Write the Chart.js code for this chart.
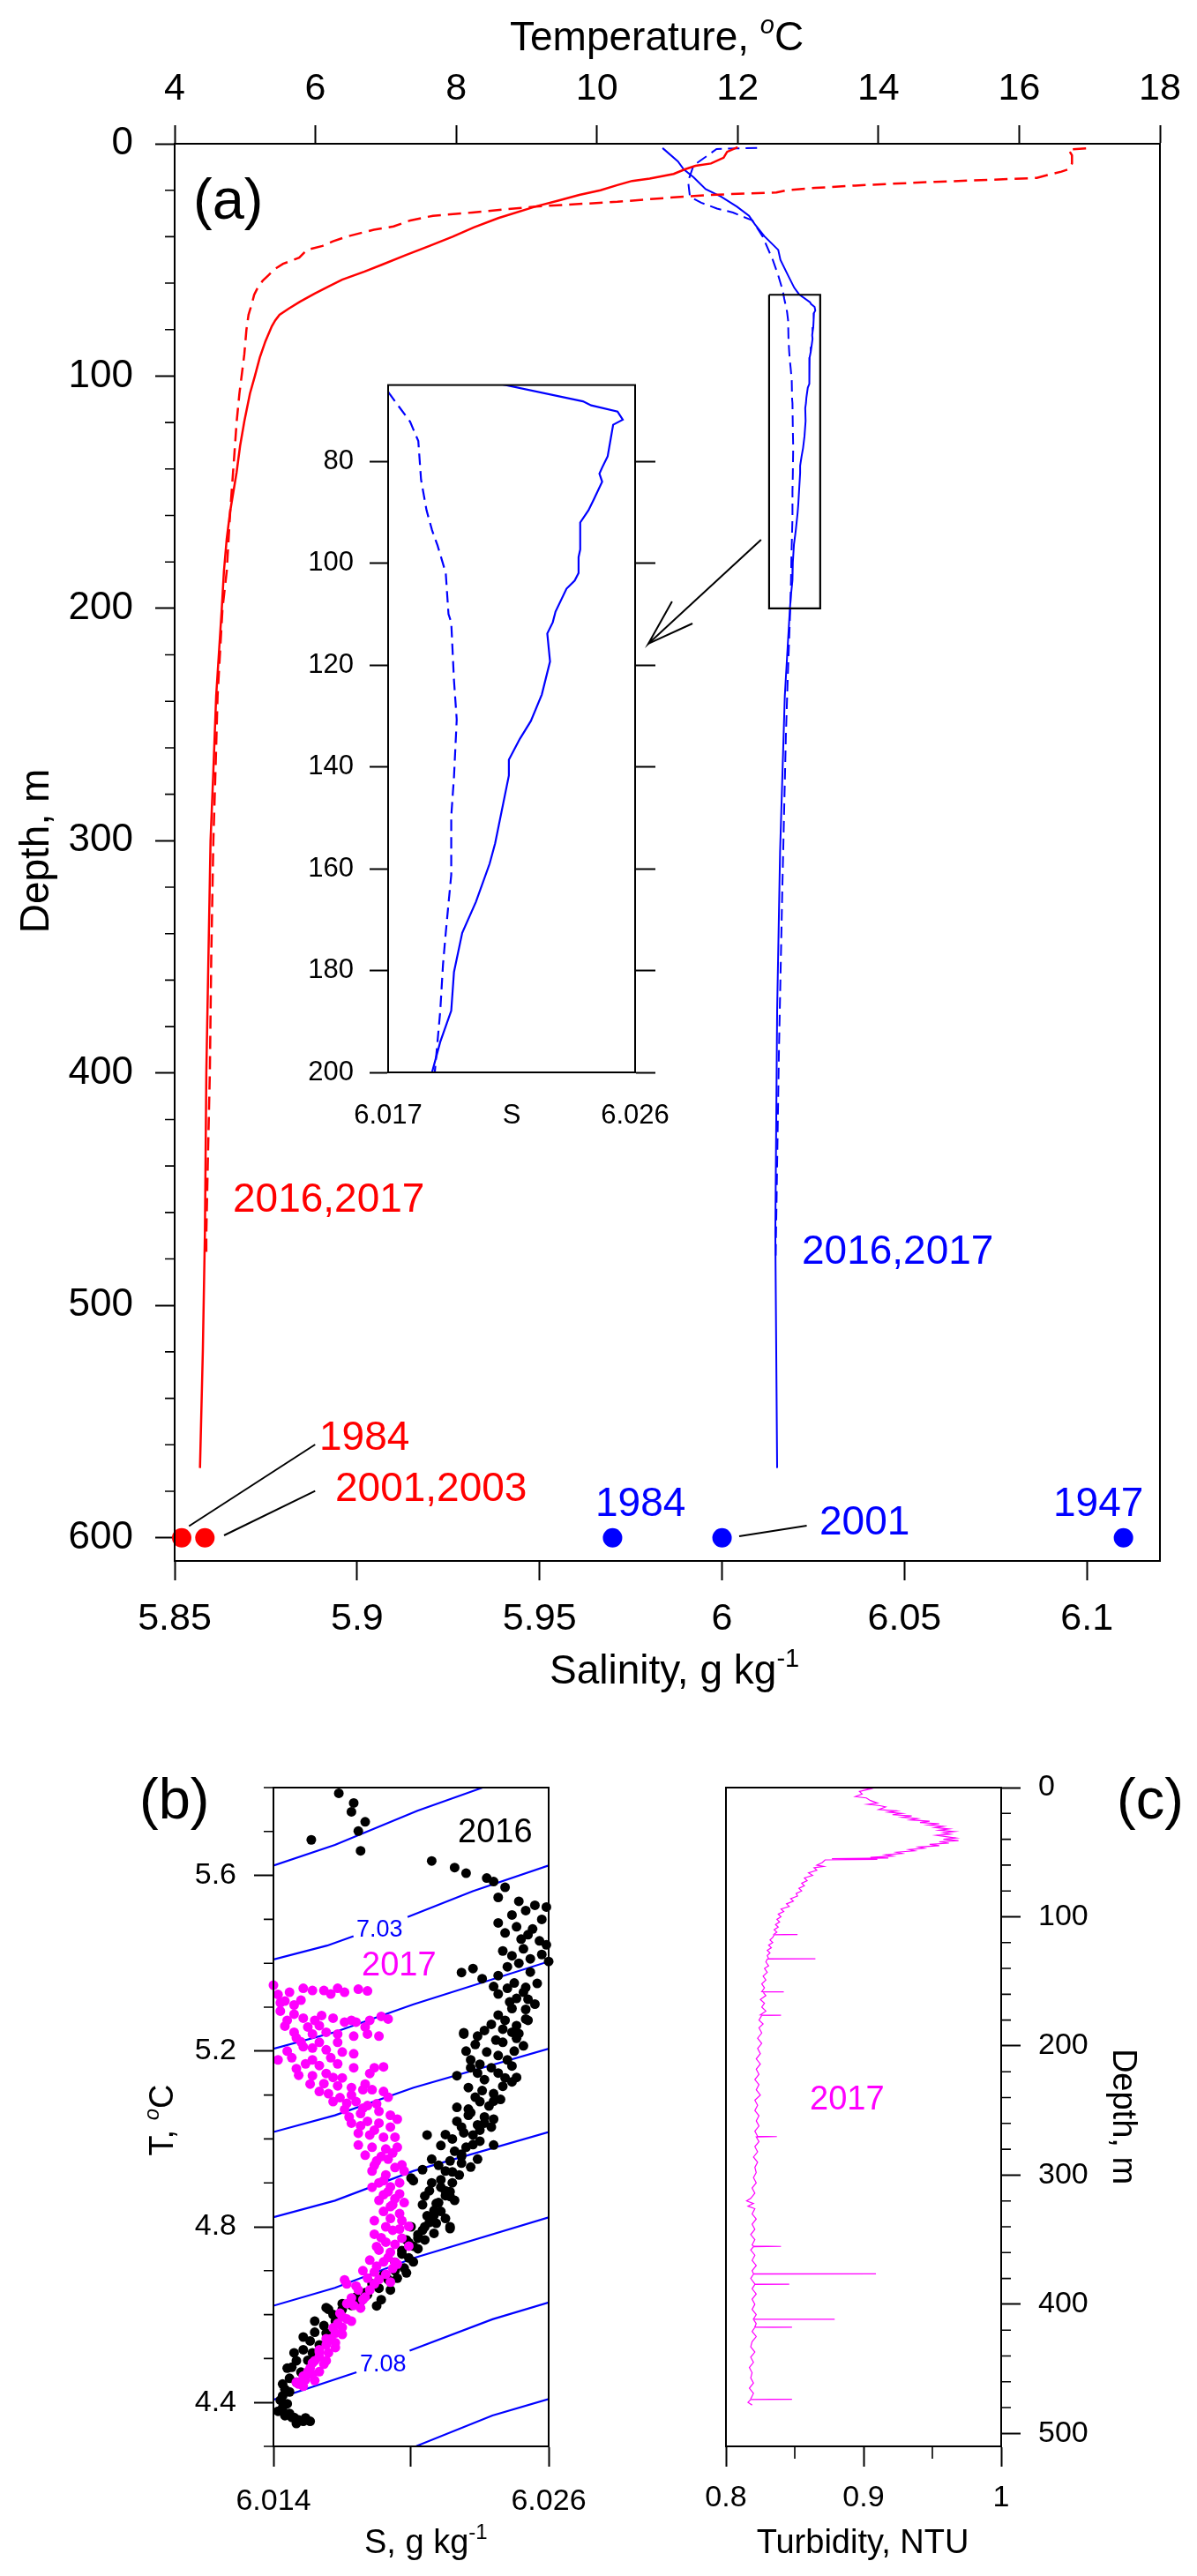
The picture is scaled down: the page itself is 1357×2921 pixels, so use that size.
<!DOCTYPE html>
<html>
<head>
<meta charset="utf-8">
<script src="https://cdn.jsdelivr.net/npm/chart.js@4.4.1/dist/chart.umd.min.js"></script>
<style>
html, body { margin: 0; padding: 0; background: #fff; }
#page { position: relative; width: 1357px; height: 2921px; background: #fff; overflow: hidden; }
canvas { position: absolute; }
</style>
</head>
<body>
<div id="page">
  <canvas id="cA" width="1357" height="1950" style="left:0px;top:0px"></canvas>
  <canvas id="cIn" width="470" height="900" style="left:330px;top:400px"></canvas>
  <canvas id="cB" width="700" height="971" style="left:0px;top:1950px"></canvas>
  <canvas id="cC" width="657" height="971" style="left:700px;top:1950px"></canvas>
</div>
<script>
const FONT = "'Liberation Sans', Arial, Helvetica, sans-serif";
const RED = '#ff0000', BLUE = '#0000ff', MAG = '#ff00ff';

// ---- (a) temperature profiles (top axis), depth in m
const depthT2016 = [1.5,3.5,6,8.5,9.5,11,13,15,16,17.8,20,22,24.5,27,32,36,40,44,48,52,55,58.5,61.5,64.5,68,71,73.6,76,78.6,85,92,100,107.5,119.5,130,141.5,158,170,184,200,237.6,270,300,350,400,469,520,570];
const temp2016 = [12.0,11.85,11.8,11.62,11.4,11.25,11.09,10.75,10.5,10.29,10.05,9.75,9.45,9.13,8.6,8.25,7.95,7.62,7.28,6.95,6.7,6.38,6.18,5.99,5.78,5.62,5.49,5.43,5.38,5.29,5.21,5.14,5.07,4.99,4.93,4.88,4.79,4.74,4.70,4.67,4.59,4.55,4.51,4.48,4.45,4.43,4.40,4.36];
const depthT2017 = [2,2.5,5,8.5,11,12,13.5,14.7,15.5,16.4,17.2,18,19,20,21,22,23.5,25,27,29.6,31,33,35.6,37,40,42,44,45.7,49,51.7,54,56.7,59,62,65,68.6,73.6,80,90.6,107.6,120,133,158,184,200,237.6,270,300,350,400,440,469,480];
const temp2017 = [16.95,16.7,16.75,16.75,16.7,16.6,16.4,16.25,15.6,14.8,14.2,13.67,13.1,12.7,12.55,11.6,10.9,10.29,9.13,8.23,7.67,7.35,7.11,6.83,6.44,6.25,6.1,5.88,5.77,5.54,5.42,5.33,5.25,5.18,5.13,5.10,5.05,5.02,4.99,4.92,4.88,4.85,4.79,4.74,4.68,4.61,4.58,4.55,4.52,4.50,4.47,4.45,4.45];

// ---- (a) salinity profiles (bottom axis), g/kg
const depthS2016 = [1.85,7.6,11,14.4,19.5,22.8,27.1,31,34.7,39.8,45.7,50,56.7,62,64.8,68.2,69,70.2,71.8,72.8,75.9,79,81.2,82.4,84,87.4,89.6,92,97.3,98.8,101.9,103.4,105,109.5,111.6,113.8,119.3,125.8,131,134.5,138.6,141.7,155,159,166.5,172.6,180.3,187.9,194,200,237.6,305,373,469,570];
const sal2016 = [5.9837,5.9879,5.9895,5.9922,5.9955,5.9998,6.0041,6.0074,6.0090,6.0116,6.0154,6.0160,6.0181,6.0198,6.0211,6.0241,6.0244,6.02536,6.02555,6.0252,6.0251,6.0250,6.0248,6.0247,6.0248,6.0245,6.0243,6.0240,6.0240,6.02394,6.02394,6.0238,6.0235,6.0231,6.0230,6.0228,6.0229,6.0226,6.0222,6.0218,6.0214,6.0214,6.0209,6.0207,6.0202,6.0197,6.0194,6.0193,6.0189,6.0186,6.0172,6.0159,6.0151,6.0146,6.0151];
const depthS2017 = [1.8,2.0,2.3,5.1,9.3,16.1,22.8,25.4,27.9,29.6,33,39.8,50,56.7,63,66.8,72.2,76,83.6,89.6,93.5,96.5,101.9,110,111.6,123,130.7,142,149.7,161.2,172.6,178.8,187.9,200,230,254.6,322,390,469,480];
const sal2017 = [6.0096,6.0040,5.9985,5.9960,5.9922,5.9907,5.9912,5.9943,5.9986,6.0030,6.0083,6.0111,6.0139,6.0154,6.0166,6.01706,6.0178,6.0181,6.0182,6.0184,6.0186,6.0188,6.0191,6.0192,6.0193,6.0194,6.0195,6.0194,6.0193,6.0193,6.0191,6.0190,6.0189,6.0187,6.0180,6.0175,6.0165,6.0156,6.0148,6.0147];

// ---- (a) historical values at the 600 m marker
const histDepth = 600;
const histTempYears = ['1984', '2001,2003'];
const histTemp = [4.10, 4.43];
const histSalYears = ['1984', '2001', '1947'];
const histSal = [5.97, 6.00, 6.11];

// ---- (a) ticks
const tempTicks = [4, 6, 8, 10, 12, 14, 16, 18];
const salTicks = [5.85, 5.9, 5.95, 6, 6.05, 6.1];
const salTickLabels = ['5.85', '5.9', '5.95', '6', '6.05', '6.1'];
const depthTicks = [0, 100, 200, 300, 400, 500, 600];
const depthMinor = [20,40,60,80,120,140,160,180,220,240,260,280,320,340,360,380,420,440,460,480,520,540,560,580];
const insetDepthTicks = [80, 100, 120, 140, 160, 180, 200];
const insetSalTicks = [6.017, 6.0215, 6.026];
const insetSalLabels = ['6.017', 'S', '6.026'];

// zoom box, arrow and leader lines (data units)
const boxSal = [6.0129, 6.0269, 6.0269, 6.0129, 6.0129];
const boxDepth = [65, 65, 200, 200, 65];
const arrowSal = [6.0107, 5.9798, 5.9863];
const arrowDepth = [170.4, 215.2, 197.0];
const arrowWingSal = [5.9798, 5.9919];
const arrowWingDepth = [215.2, 206.5];

// ---- (b) T-S diagram
const tsTicksT = [4.4, 4.8, 5.2, 5.6];
const tsTicksTLabels = ['4.4', '4.8', '5.2', '5.6'];
const tsMinorT = [4.3, 4.5, 4.6, 4.7, 4.9, 5.0, 5.1, 5.3, 5.4, 5.5, 5.7, 5.8];
const tsTicksS = [6.014, 6.020, 6.026];
const tsTicksSLabels = ['6.014', '', '6.026'];
// isopycnals 7.02 ... 7.09 (S, T); null = gap for the contour label
const iso702S = [6.0140, 6.01668, 6.02028, 6.0232];
const iso702T = [5.6226, 5.6695, 5.7472, 5.8014];
const iso703S = [6.0140, 6.01634, 6.01749, null, 6.01985, 6.02269, 6.0260];
const iso703T = [5.4086, 5.4402, 5.4618, null, 5.5052, 5.5639, 5.6226];
const iso704S = [6.0140, 6.01668, 6.02011, 6.0260];
const iso704T = [5.2054, 5.2433, 5.3065, 5.4040];
const iso705S = [6.0140, 6.01668, 6.02011, 6.0260];
const iso705T = [5.0158, 5.0537, 5.1169, 5.2054];
const iso706S = [6.0140, 6.01668, 6.02011, 6.0260];
const iso706T = [4.8216, 4.8595, 4.9273, 5.0158];
const iso707S = [6.0140, 6.01668, 6.02011, 6.0260];
const iso707T = [4.6202, 4.6609, 4.7286, 4.8216];
const iso708S = [6.0140, 6.01762, null, 6.01994, 6.02355, 6.0260];
const iso708T = [4.4061, 4.4687, null, 4.5179, 4.5894, 4.6278];
const iso709S = [6.02023, 6.02355, 6.0260];
const iso709T = [4.3007, 4.3704, 4.4079];

// T-S points [S, T]
const ts2016 = [[6.01565,5.681],[6.01685,5.787],[6.0175,5.765],[6.0174,5.745],[6.0180,5.722],[6.0177,5.701],[6.0178,5.656],[6.0209,5.633],[6.0219,5.618],[6.0224,5.605],[6.0233,5.594],[6.0236,5.586],[6.0241,5.573],[6.0238,5.550],[6.0247,5.541],[6.0244,5.510],[6.0254,5.532],[6.0259,5.528],[6.0238,5.492],[6.0246,5.483],[6.0241,5.469],[6.0251,5.465],[6.0256,5.451],[6.0259,5.442],[6.0240,5.428],[6.0249,5.433],[6.0244,5.417],[6.0252,5.410],[6.0260,5.404],[6.0242,5.392],[6.0222,5.379],[6.0227,5.388],[6.0231,5.365],[6.0236,5.347],[6.0242,5.343],[6.0249,5.334],[6.0246,5.320],[6.0254,5.307],[6.0244,5.297],[6.0241,5.270],[6.0251,5.270],[6.0235,5.261],[6.0244,5.243],[6.0223,5.239],[6.0229,5.234],[6.0237,5.225],[6.0249,5.212],[6.0233,5.198],[6.0224,5.200],[6.0226,5.180],[6.0242,5.180],[6.0235,5.162],[6.0220,5.144],[6.0226,5.162],[6.0232,5.135],[6.0244,5.130],[6.0225,5.117],[6.0236,5.103],[6.0230,5.085],[6.0239,5.090],[6.0220,5.072],[6.0225,5.054],[6.0232,5.036],[6.0222,5.027],[6.0227,5.009],[6.0235,5.027],[6.0207,5.009],[6.0236,4.986],[6.0224,4.981],[6.0219,4.972],[6.0229,4.954],[6.0209,4.954],[6.0217,4.950],[6.0226,4.936],[6.0215,4.927],[6.0221,4.918],[6.0201,4.905],[6.0209,4.900],[6.0215,4.882],[6.0208,4.882],[6.0217,4.869],[6.0212,4.855],[6.0210,4.837],[6.0215,4.819],[6.0208,4.810],[6.0217,4.796],[6.0205,4.792],[6.0203,4.774],[6.0201,4.756],[6.0199,4.729],[6.0197,4.706],[6.0194,4.683],[6.0191,4.656],[6.0187,4.634],[6.0185,4.620],[6.0174,4.621],[6.0170,4.612],[6.0164,4.612],[6.0167,4.585],[6.0163,4.558],[6.0160,4.531],[6.0157,4.513],[6.0155,4.496],[6.0152,4.469],[6.0150,4.446],[6.0147,4.424],[6.0146,4.397],[6.0147,4.375],[6.0149,4.366],[6.0153,4.357],[6.0156,4.357],[6.0163,4.616],[6.0158,4.585],[6.0153,4.549],[6.0149,4.513],[6.0146,4.478],[6.0144,4.442],[6.0144,4.415],[6.0144,4.388],[6.0148,4.366],[6.0151,4.360],[6.0193,4.719],[6.0196,4.746],[6.0199,4.764],[6.0203,4.782],[6.0206,4.800],[6.0210,4.826],[6.0211,4.853],[6.0215,4.871],[6.0217,4.880],[6.0213,4.907],[6.0218,4.925],[6.0222,4.960],[6.0227,4.987],[6.0223,5.014],[6.0229,5.032],[6.0232,5.050],[6.0225,5.068],[6.0236,5.086],[6.0241,5.139],[6.0244,5.166],[6.0246,5.229],[6.0250,5.273],[6.0251,5.318],[6.0255,5.354],[6.0223,5.242],[6.0200,4.911],[6.0215,5.010],[6.0217,4.800],[6.0180,4.650],[6.0176,4.640],[6.0188,4.690],[6.0183,4.670],
  [6.0250,5.520],[6.0257,5.500],[6.0253,5.478],[6.0248,5.455],[6.0257,5.420],[6.0247,5.400],[6.0252,5.380],[6.0238,5.372],[6.0245,5.355],[6.0250,5.345],[6.0238,5.330],[6.0243,5.312],[6.0250,5.295],[6.0238,5.282],[6.0246,5.258],[6.0240,5.250],[6.0232,5.247],[6.0247,5.240],[6.0240,5.220],[6.0228,5.215],[6.0245,5.200],[6.0238,5.190],[6.0230,5.170],[6.0238,5.150],[6.0229,5.150],[6.0246,5.140],[6.0240,5.120],[6.0231,5.110],[6.0228,5.095],[6.0234,5.075],[6.0226,5.060],[6.0236,5.045],[6.0230,5.020],[6.0220,5.040],[6.0218,5.000],[6.0230,4.995],[6.0213,4.985],[6.0222,4.965],[6.0212,4.940],[6.0205,4.930],[6.0222,4.945],[6.0218,4.900],[6.0213,4.890],[6.0206,4.870],[6.0219,4.860],[6.0205,4.850],[6.0213,4.835],[6.0207,4.825],[6.0211,4.808],[6.0200,4.800],[6.0210,4.785],[6.0206,4.770],[6.0198,4.770],[6.0203,4.750],[6.0196,4.738],[6.0201,4.720],[6.0193,4.700],[6.0198,4.695],[6.0190,4.680],[6.0186,4.660],[6.0181,4.645],[6.0178,4.630],[6.0170,4.625],[6.0166,4.600],[6.0162,4.575],[6.0158,4.560],[6.0156,4.540],[6.0153,4.520],[6.0150,4.495],[6.0148,4.480],[6.0147,4.455],[6.0145,4.430],[6.0143,4.405],[6.0142,4.380],[6.0145,4.370],[6.0150,4.352],[6.0154,4.365]];
const ts2017 = [[6.0140,5.350],[6.0142,5.329],[6.0147,5.334],[6.0153,5.343],[6.0157,5.338],[6.0162,5.338],[6.0168,5.343],[6.0171,5.334],[6.0177,5.341],[6.0181,5.337],[6.0145,5.314],[6.0152,5.316],[6.0143,5.291],[6.0149,5.284],[6.0153,5.275],[6.0158,5.270],[6.0161,5.281],[6.0166,5.275],[6.0171,5.266],[6.0176,5.266],[6.0182,5.270],[6.0187,5.279],[6.0190,5.273],[6.0145,5.257],[6.0149,5.243],[6.0157,5.239],[6.0163,5.243],[6.0168,5.239],[6.0175,5.234],[6.0181,5.239],[6.0186,5.234],[6.0152,5.221],[6.0157,5.207],[6.0163,5.203],[6.0170,5.198],[6.0175,5.194],[6.0142,5.180],[6.0148,5.185],[6.0154,5.171],[6.0160,5.167],[6.0168,5.171],[6.0175,5.162],[6.0184,5.162],[6.0188,5.164],[6.0151,5.145],[6.0157,5.144],[6.0163,5.149],[6.0170,5.139],[6.0182,5.149],[6.0162,5.126],[6.0168,5.121],[6.0174,5.117],[6.0179,5.112],[6.0183,5.112],[6.0188,5.108],[6.0160,5.108],[6.0164,5.103],[6.0169,5.094],[6.0172,5.081],[6.0176,5.085],[6.0181,5.076],[6.0171,5.067],[6.0178,5.058],[6.0186,5.063],[6.0191,5.054],[6.0174,5.036],[6.0181,5.040],[6.0186,5.036],[6.0191,5.027],[6.0194,5.045],[6.0177,5.013],[6.0182,5.009],[6.0188,5.004],[6.0193,5.004],[6.0177,4.986],[6.0183,4.981],[6.0189,4.977],[6.0194,4.981],[6.0180,4.963],[6.0185,4.950],[6.0190,4.954],[6.0196,4.941],[6.0183,4.927],[6.0189,4.918],[6.0197,4.927],[6.0186,4.900],[6.0191,4.891],[6.0188,4.873],[6.0193,4.864],[6.0197,4.855],[6.0191,4.846],[6.0184,4.814],[6.0191,4.819],[6.0196,4.814],[6.0199,4.801],[6.0192,4.792],[6.0184,4.783],[6.0189,4.765],[6.0196,4.774],[6.0199,4.756],[6.0186,4.747],[6.0191,4.742],[6.0182,4.724],[6.0188,4.720],[6.0194,4.715],[6.0184,4.697],[6.0189,4.692],[6.0181,4.683],[6.0184,4.670],[6.0172,4.670],[6.0177,4.656],[6.0182,4.656],[6.0174,4.638],[6.0179,4.634],[6.0169,4.603],[6.0175,4.621],[6.0167,4.558],[6.0170,4.571],[6.0163,4.531],[6.0167,4.536],[6.0160,4.504],[6.0164,4.513],[6.0156,4.478],[6.0162,4.487],[6.0153,4.460],[6.0157,4.464],[6.0151,4.442],[6.0150,4.446],[6.0153,4.437],[6.0191,4.674],[6.0193,4.719],[6.0171,4.679],[6.0172,4.590],[6.0168,4.580],[6.0165,4.545],[6.0160,4.520],[6.0158,4.495],[6.0155,4.470],
  [6.0187,4.960],[6.0192,4.968],[6.0184,4.940],[6.0193,4.935],[6.0188,4.905],[6.0195,4.900],[6.0183,4.890],[6.0190,4.880],[6.0195,4.875],[6.0186,4.860],[6.0192,4.850],[6.0188,4.835],[6.0195,4.830],[6.0189,4.800],[6.0195,4.795],[6.0187,4.775],[6.0193,4.760],[6.0185,4.755],[6.0190,4.730],[6.0185,4.710],[6.0192,4.705],[6.0179,4.700],[6.0186,4.680],[6.0176,4.665],[6.0180,4.640],[6.0172,4.625],[6.0178,4.615],[6.0170,4.595],[6.0174,4.585],[6.0166,4.570],[6.0170,4.555],[6.0163,4.545],[6.0167,4.525],[6.0160,4.515],[6.0163,4.495],[6.0157,4.490],[6.0160,4.470],[6.0154,4.452],[6.0158,4.450],[6.0178,5.030],[6.0184,5.020],[6.0173,5.050],[6.0179,5.070],[6.0185,5.080],[6.0166,5.085],[6.0174,5.100],[6.0190,5.095],[6.0180,5.125],[6.0156,5.125],[6.0166,5.140],[6.0150,5.160],[6.0157,5.180],[6.0165,5.185],[6.0146,5.200],[6.0153,5.210],[6.0160,5.220],[6.0168,5.220],[6.0150,5.230],[6.0155,5.255],[6.0146,5.270],[6.0160,5.258],[6.0143,5.310],[6.0149,5.305],[6.0165,5.330],[6.0174,5.270],[6.0180,5.255]];

// ---- (c) turbidity profile [depth m, NTU]
const turbTicks = [0.8, 0.9, 1];
const turbTickLabels = ['0.8', '0.9', '1'];
const turbMinor = [0.85, 0.95];
const turbDepthTicks = [0, 100, 200, 300, 400, 500];
const turbDepthMinor = [20,40,60,80,120,140,160,180,220,240,260,280,320,340,360,380,420,440,460,480];
const turb2017 = [[0,0.893],[1,0.905],[3,0.897],[5,0.899],[7,0.894],[8,0.902],[10,0.905],[12,0.910],[13,0.903],[14,0.912],[15,0.916],[17,0.911],[18,0.924],[19,0.918],[20,0.928],[21,0.921],[22,0.935],[23,0.928],[24,0.939],[25,0.934],[26,0.948],[27,0.941],[28,0.955],[29,0.947],[30,0.958],[31,0.952],[32,0.962],[33,0.955],[34,0.966],[35,0.958],[36,0.963],[37,0.953],[38,0.960],[39,0.967],[40,0.958],[41,0.969],[42,0.955],[43,0.962],[44,0.948],[45,0.955],[46,0.940],[47,0.944],[48,0.933],[49,0.937],[50,0.924],[51,0.928],[52,0.916],[53,0.921],[54,0.905],[54.5,0.918],[55,0.877],[55.5,0.910],[56,0.872],[58,0.870],[60,0.866],[61,0.871],[62,0.864],[64,0.866],[66,0.860],[68,0.863],[70,0.857],[72,0.859],[74,0.855],[76,0.857],[78,0.853],[80,0.855],[82,0.851],[84,0.852],[86,0.847],[88,0.849],[90,0.844],[92,0.846],[94,0.840],[96,0.842],[98,0.838],[100,0.840],[102,0.837],[104,0.839],[106,0.836],[108,0.838],[110,0.835],[112,0.837],[113.5,0.835],[113.7,0.852],[114,0.835],[116,0.834],[118,0.832],[120,0.834],[122,0.831],[124,0.833],[126,0.830],[128,0.832],[130,0.830],[132.5,0.831],[132.6,0.865],[132.8,0.830],[135,0.829],[138,0.831],[140,0.828],[143,0.830],[146,0.827],[149,0.829],[152,0.826],[155,0.828],[158,0.826],[158.2,0.842],[158.4,0.827],[161,0.829],[164,0.825],[167,0.828],[170,0.826],[173,0.829],[176,0.825],[176.2,0.840],[176.4,0.826],[180,0.824],[183,0.827],[186,0.824],[190,0.826],[194,0.823],[198,0.826],[202,0.823],[206,0.825],[210,0.822],[214,0.825],[218,0.822],[222,0.824],[226,0.821],[230,0.824],[234,0.822],[238,0.825],[242,0.821],[246,0.823],[250,0.821],[254,0.824],[258,0.822],[262,0.824],[266,0.821],[270,0.823],[270.2,0.837],[270.4,0.822],[274,0.824],[278,0.821],[282,0.823],[286,0.820],[290,0.823],[294,0.821],[298,0.822],[302,0.820],[306,0.822],[310,0.819],[314,0.821],[318,0.818],[320,0.815],[322,0.820],[324,0.816],[326,0.821],[330,0.819],[334,0.822],[338,0.819],[342,0.821],[346,0.818],[350,0.821],[354,0.819],[355,0.820],[355.2,0.840],[355.4,0.820],[358,0.818],[362,0.821],[366,0.819],[370,0.822],[374,0.819],[376.3,0.820],[376.5,0.909],[376.7,0.820],[380,0.818],[384.3,0.821],[384.5,0.846],[384.7,0.821],[388,0.819],[392,0.822],[396,0.819],[400,0.821],[404,0.819],[408,0.822],[411.4,0.820],[411.6,0.879],[411.8,0.820],[415,0.822],[417.5,0.821],[417.7,0.848],[417.9,0.821],[421,0.819],[425,0.822],[429,0.819],[433,0.818],[437,0.821],[441,0.818],[445,0.820],[449,0.817],[453,0.819],[457,0.818],[461,0.820],[465,0.817],[469,0.820],[473.3,0.818],[473.5,0.848],[473.7,0.818],[476,0.816],[478,0.819]];

Chart.defaults.font.family = FONT;
Chart.defaults.color = '#000';

const pts = (xs, ys) => xs.map((x, i) => ({ x: x, y: ys[i] }));

function profile(xs, ys, xAxis, color, dash, width) {
  return {
    data: pts(xs, ys), xAxisID: xAxis, yAxisID: 'y', showLine: true,
    borderColor: color, borderWidth: width, borderDash: dash, pointRadius: 0, fill: false
  };
}

function dots(data, xAxis, yAxis, color, r) {
  return {
    data: data, xAxisID: xAxis, yAxisID: yAxis, showLine: false, clip: false,
    pointRadius: r, pointBorderWidth: 0, pointBackgroundColor: color, backgroundColor: color
  };
}

function axis(o) {
  const horiz = o.pos === 'top' || o.pos === 'bottom';
  return {
    type: 'linear', axis: horiz ? 'x' : 'y', position: o.pos,
    min: o.min, max: o.max, reverse: !!o.reverse,
    afterBuildTicks: s => { s.ticks = o.ticks.map(v => ({ value: v })); },
    afterFit: s => { if (horiz) s.height = o.fit; else s.width = o.fit; },
    grid: { drawOnChartArea: false, drawTicks: o.tick > 0, tickLength: o.tick, tickColor: '#000', tickWidth: 2 },
    border: { display: true, color: '#000', width: 2 },
    ticks: {
      display: !!o.labels, color: '#000', padding: o.pad, autoSkip: false, maxRotation: 0, minRotation: 0,
      font: { family: FONT, size: o.size },
      callback: (v, i) => o.labels ? o.labels[i] : ''
    }
  };
}

function drawText(ctx, t, ox, oy) {
  const parts = t.parts || [{ s: t.s }];
  const fontOf = p => (p.italic ? 'italic ' : '') + (p.sup ? Math.round(t.size * 0.62) : t.size) + 'px ' + FONT;
  const widths = parts.map(p => { ctx.font = fontOf(p); return ctx.measureText(p.s).width; });
  const total = widths.reduce((a, b) => a + b, 0);
  ctx.save();
  ctx.fillStyle = t.color || '#000';
  ctx.textBaseline = 'alphabetic';
  ctx.textAlign = 'left';
  ctx.translate(t.x - ox, t.y - oy);
  if (t.rot) ctx.rotate(t.rot * Math.PI / 180);
  let x = t.align === 'center' ? -total / 2 : 0;
  parts.forEach((p, i) => {
    ctx.font = fontOf(p);
    ctx.fillText(p.s, x, p.sup ? -t.size * 0.42 : 0);
    x += widths[i];
  });
  ctx.restore();
}

// frame, minor ticks, annotation lines and free text for one chart
function decor(cfg) {
  return {
    id: 'decor',
    afterDraw(chart) {
      const ctx = chart.ctx, a = chart.chartArea;
      ctx.save();
      ctx.strokeStyle = '#000';
      if (cfg.frame) {
        ctx.lineWidth = 2;
        ctx.strokeRect(a.left, a.top, a.right - a.left, a.bottom - a.top);
      }
      (cfg.minor || []).forEach(m => {
        const s = chart.scales[m.scale];
        ctx.lineWidth = 1.6;
        ctx.beginPath();
        m.values.forEach(v => {
          const p = s.getPixelForValue(v);
          if (m.side === 'left') { ctx.moveTo(a.left, p); ctx.lineTo(a.left - m.len, p); }
          else if (m.side === 'right') { ctx.moveTo(a.right, p); ctx.lineTo(a.right + m.len, p); }
          else { ctx.moveTo(p, a.bottom); ctx.lineTo(p, a.bottom + m.len); }
        });
        ctx.stroke();
      });
      (cfg.lines || []).forEach(l => {
        const sx = chart.scales[l.x], sy = chart.scales[l.y];
        ctx.lineWidth = l.width || 2;
        ctx.strokeStyle = l.color || '#000';
        ctx.beginPath();
        l.xs.forEach((v, i) => {
          const px = sx.getPixelForValue(v), py = sy.getPixelForValue(l.ys[i]);
          if (i) ctx.lineTo(px, py); else ctx.moveTo(px, py);
        });
        ctx.stroke();
      });
      ctx.restore();
      (cfg.texts || []).forEach(t => drawText(ctx, t, cfg.origin[0], cfg.origin[1]));
    }
  };
}

const base = {
  responsive: false, animation: false, devicePixelRatio: 1,
  plugins: { legend: { display: false }, tooltip: { enabled: false } }
};

// ================= (a) main profiles =================
new Chart(document.getElementById('cA'), {
  type: 'scatter',
  data: { datasets: [
    dots(histTemp.map(v => ({ x: v, y: histDepth })), 'xT', 'y', RED, 11),
    dots(histSal.map(v => ({ x: v, y: histDepth })), 'xS', 'y', BLUE, 11),
    profile(temp2016, depthT2016, 'xT', RED, [], 2.5),
    profile(temp2017, depthT2017, 'xT', RED, [15, 8], 2.5),
    profile(sal2016, depthS2016, 'xS', BLUE, [], 2),
    profile(sal2017, depthS2017, 'xS', BLUE, [13, 7], 2)
  ]},
  options: Object.assign({}, base, {
    layout: { padding: { left: 0, right: 42, top: 0, bottom: 0 } },
    scales: {
      xT: axis({ pos: 'top', min: 4, max: 18, ticks: tempTicks, labels: tempTicks.map(String), size: 43, tick: 21, pad: 15, fit: 163 }),
      xS: axis({ pos: 'bottom', min: 5.85, max: 6.12, ticks: salTicks, labels: salTickLabels, size: 43, tick: 22, pad: 18, fit: 180 }),
      y: axis({ pos: 'left', min: 0, max: 610, reverse: true, ticks: depthTicks, labels: depthTicks.map(String), size: 44, tick: 22, pad: 25, fit: 198 })
    }
  }),
  plugins: [decor({
    origin: [0, 0], frame: true,
    minor: [{ scale: 'y', values: depthMinor, len: 11, side: 'left' }],
    lines: [
      { x: 'xS', y: 'y', xs: boxSal, ys: boxDepth, width: 2.2 },
      { x: 'xS', y: 'y', xs: arrowSal, ys: arrowDepth, width: 2 },
      { x: 'xS', y: 'y', xs: arrowWingSal, ys: arrowWingDepth, width: 2 },
      { x: 'xT', y: 'y', xs: [4.204, 5.996], ys: [595.0, 559.9], width: 2 },
      { x: 'xT', y: 'y', xs: [4.702, 5.996], ys: [599.0, 579.9], width: 2 },
      { x: 'xS', y: 'y', xs: [6.0047, 6.0232], ys: [599.4, 594.8], width: 2 }
    ],
    texts: [
      { x: 578, y: 57, size: 46, parts: [{ s: 'Temperature, ' }, { s: 'o', sup: true, italic: true }, { s: 'C' }] },
      { x: 55, y: 965, size: 46, rot: -90, align: 'center', s: 'Depth, m' },
      { x: 623, y: 1909, size: 46, parts: [{ s: 'Salinity, g kg' }, { s: '-1', sup: true }] },
      { x: 219, y: 248, size: 65, s: '(a)' },
      { x: 264, y: 1374, size: 46, color: RED, s: '2016,2017' },
      { x: 362, y: 1644, size: 46, color: RED, s: histTempYears[0] },
      { x: 380, y: 1702, size: 46, color: RED, s: histTempYears[1] },
      { x: 909, y: 1433, size: 46, color: BLUE, s: '2016,2017' },
      { x: 675, y: 1719, size: 46, color: BLUE, s: histSalYears[0] },
      { x: 929, y: 1740, size: 46, color: BLUE, s: histSalYears[1] },
      { x: 1194, y: 1719, size: 46, color: BLUE, s: histSalYears[2] }
    ]
  })]
});

// ================= (a) inset: salinity 65-200 m =================
new Chart(document.getElementById('cIn'), {
  type: 'scatter',
  data: { datasets: [
    profile(sal2016, depthS2016, 'x', BLUE, [], 2.2),
    profile(sal2017, depthS2017, 'x', BLUE, [13, 7], 2.2)
  ]},
  options: Object.assign({}, base, {
    layout: { padding: { left: 0, right: 0, top: 26, bottom: 0 } },
    scales: {
      x: axis({ pos: 'bottom', min: 6.017, max: 6.026, ticks: insetSalTicks, labels: insetSalLabels, size: 31, tick: 0, pad: 31, fit: 84 }),
      y: axis({ pos: 'left', min: 65, max: 200, reverse: true, ticks: insetDepthTicks, labels: insetDepthTicks.map(String), size: 31, tick: 21, pad: 18, fit: 110 }),
      y2: axis({ pos: 'right', min: 65, max: 200, reverse: true, ticks: insetDepthTicks, labels: null, size: 31, tick: 23, pad: 0, fit: 80 })
    }
  }),
  plugins: [decor({ origin: [330, 400], frame: true })]
});

// ================= (b) T-S diagram =================
const isoLine = (s, t) => ({
  data: pts(s, t), xAxisID: 'x', yAxisID: 'y', showLine: true, spanGaps: false,
  borderColor: BLUE, borderWidth: 2.2, pointRadius: 0
});
new Chart(document.getElementById('cB'), {
  type: 'scatter',
  data: { datasets: [
    dots(ts2017.map(p => ({ x: p[0], y: p[1] })), 'x', 'y', MAG, 5.5),
    dots(ts2016.map(p => ({ x: p[0], y: p[1] })), 'x', 'y', '#000', 5.5),
    isoLine(iso702S, iso702T), isoLine(iso703S, iso703T), isoLine(iso704S, iso704T), isoLine(iso705S, iso705T),
    isoLine(iso706S, iso706T), isoLine(iso707S, iso707T), isoLine(iso708S, iso708T), isoLine(iso709S, iso709T)
  ]},
  options: Object.assign({}, base, {
    layout: { padding: { left: 0, right: 78, top: 77, bottom: 0 } },
    scales: {
      x: axis({ pos: 'bottom', min: 6.014, max: 6.026, ticks: tsTicksS, labels: tsTicksSLabels, size: 34, tick: 23, pad: 19, fit: 147 }),
      y: axis({ pos: 'left', min: 4.3, max: 5.8, ticks: tsTicksT, labels: tsTicksTLabels, size: 34, tick: 22, pad: 20, fit: 310 })
    }
  }),
  plugins: [decor({
    origin: [0, 1950], frame: true,
    minor: [{ scale: 'y', values: tsMinorT, len: 11, side: 'left' }],
    texts: [
      { x: 158, y: 2062, size: 65, s: '(b)' },
      { x: 519, y: 2089, size: 38, s: '2016' },
      { x: 410, y: 2240, size: 38, color: MAG, s: '2017' },
      { x: 404, y: 2196, size: 27, color: BLUE, s: '7.03' },
      { x: 408, y: 2689, size: 27, color: BLUE, s: '7.08' },
      { x: 196, y: 2404, size: 38, rot: -90, align: 'center', parts: [{ s: 'T, ' }, { s: 'o', sup: true, italic: true }, { s: 'C' }] },
      { x: 413, y: 2895, size: 38, parts: [{ s: 'S, g kg' }, { s: '-1', sup: true }] }
    ]
  })]
});

// ================= (c) turbidity =================
new Chart(document.getElementById('cC'), {
  type: 'scatter',
  data: { datasets: [{
    data: turb2017.map(p => ({ x: p[1], y: p[0] })), xAxisID: 'x', yAxisID: 'y', showLine: true,
    borderColor: MAG, borderWidth: 1.2, pointRadius: 0
  }]},
  options: Object.assign({}, base, {
    layout: { padding: { left: 123, right: 0, top: 77, bottom: 0 } },
    scales: {
      x: axis({ pos: 'bottom', min: 0.8, max: 1, ticks: turbTicks, labels: turbTickLabels, size: 34, tick: 23, pad: 15, fit: 147 }),
      y: axis({ pos: 'right', min: 0, max: 510, reverse: true, ticks: turbDepthTicks, labels: turbDepthTicks.map(String), size: 34, tick: 22, pad: 20, fit: 222 })
    }
  }),
  plugins: [decor({
    origin: [700, 1950], frame: true,
    minor: [
      { scale: 'x', values: turbMinor, len: 14, side: 'bottom' },
      { scale: 'y', values: turbDepthMinor, len: 11, side: 'right' }
    ],
    texts: [
      { x: 1266, y: 2062, size: 65, s: '(c)' },
      { x: 918, y: 2392, size: 38, color: MAG, s: '2017' },
      { x: 978, y: 2895, size: 38, align: 'center', s: 'Turbidity, NTU' },
      { x: 1262, y: 2400, size: 38, rot: 90, align: 'center', s: 'Depth, m' }
    ]
  })]
});
</script>
</body>
</html>
